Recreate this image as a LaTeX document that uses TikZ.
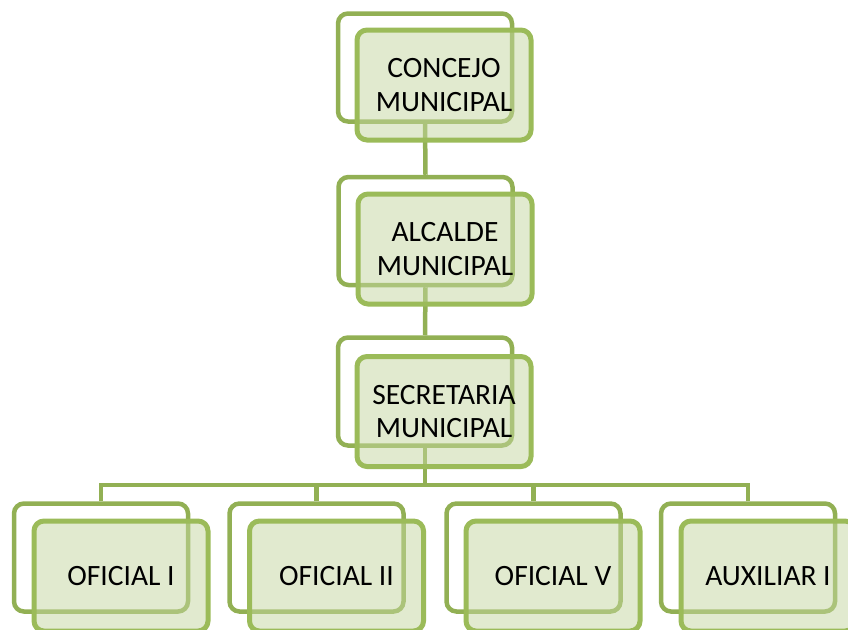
\documentclass[tikz,border=0pt]{standalone}
\usepackage{fontspec}
\setmainfont{Carlito}
\definecolor{backline}{RGB}{146,176,84}
\definecolor{frontline}{RGB}{155,187,89}
\definecolor{frontfill}{RGB}{196,214,160}
\begin{document}
\begin{tikzpicture}[x=1pt,y=-1pt,
  backbox/.style={draw=backline, line width=4.5pt, rounded corners=10pt, fill=white,
    minimum width=174pt, minimum height=108pt, inner sep=0pt},
  frontbox/.style={draw=frontline, line width=5pt, rounded corners=10pt, fill=frontfill, fill opacity=0.5, text opacity=1,
    minimum width=174pt, minimum height=110pt, inner sep=0pt, align=center,
    font=\fontsize{29.5}{33.5}\selectfont},
  conn/.style={draw=backline, line width=4.5pt}]
\useasboundingbox (0,0) rectangle (848,629);
% back boxes
\node[backbox] (b1) at (425,67.5) {};
\node[backbox] (b2) at (425.5,231) {};
\node[backbox] (b3) at (425,391.5) {};
\node[backbox] (b4) at (101,557.5) {};
\node[backbox] (b5) at (316.5,557.5) {};
\node[backbox] (b6) at (533.5,557.5) {};
\node[backbox] (b7) at (748,557.5) {};
% connectors
\coordinate (bus) at (425,485);
\draw[conn] (b1.south) -- (b2.north);
\draw[conn] (b2.south) -- (b3.north);
\draw[conn] (b3.south) -- (bus);
\draw[conn] (b4.north) |- (bus);
\draw[conn] (b7.north) |- (bus);
\draw[conn] (b5.north) -- (b5.north |- bus);
\draw[conn] (b6.north) -- (b6.north |- bus);
% front boxes
\node[frontbox] (f1) at (444,85) {CONCEJO\\MUNICIPAL};
\node[frontbox] (f2) at (445,249) {ALCALDE\\MUNICIPAL};
\node[frontbox] (f3) at (444,411.5) {SECRETARIA\\MUNICIPAL};
\node[frontbox] (f4) at (121,576) {OFICIAL I};
\node[frontbox] (f5) at (336.5,576) {OFICIAL II};
\node[frontbox] (f6) at (553,576) {OFICIAL V};
\node[frontbox] (f7) at (768,576) {AUXILIAR I};
\end{tikzpicture}
\end{document}
